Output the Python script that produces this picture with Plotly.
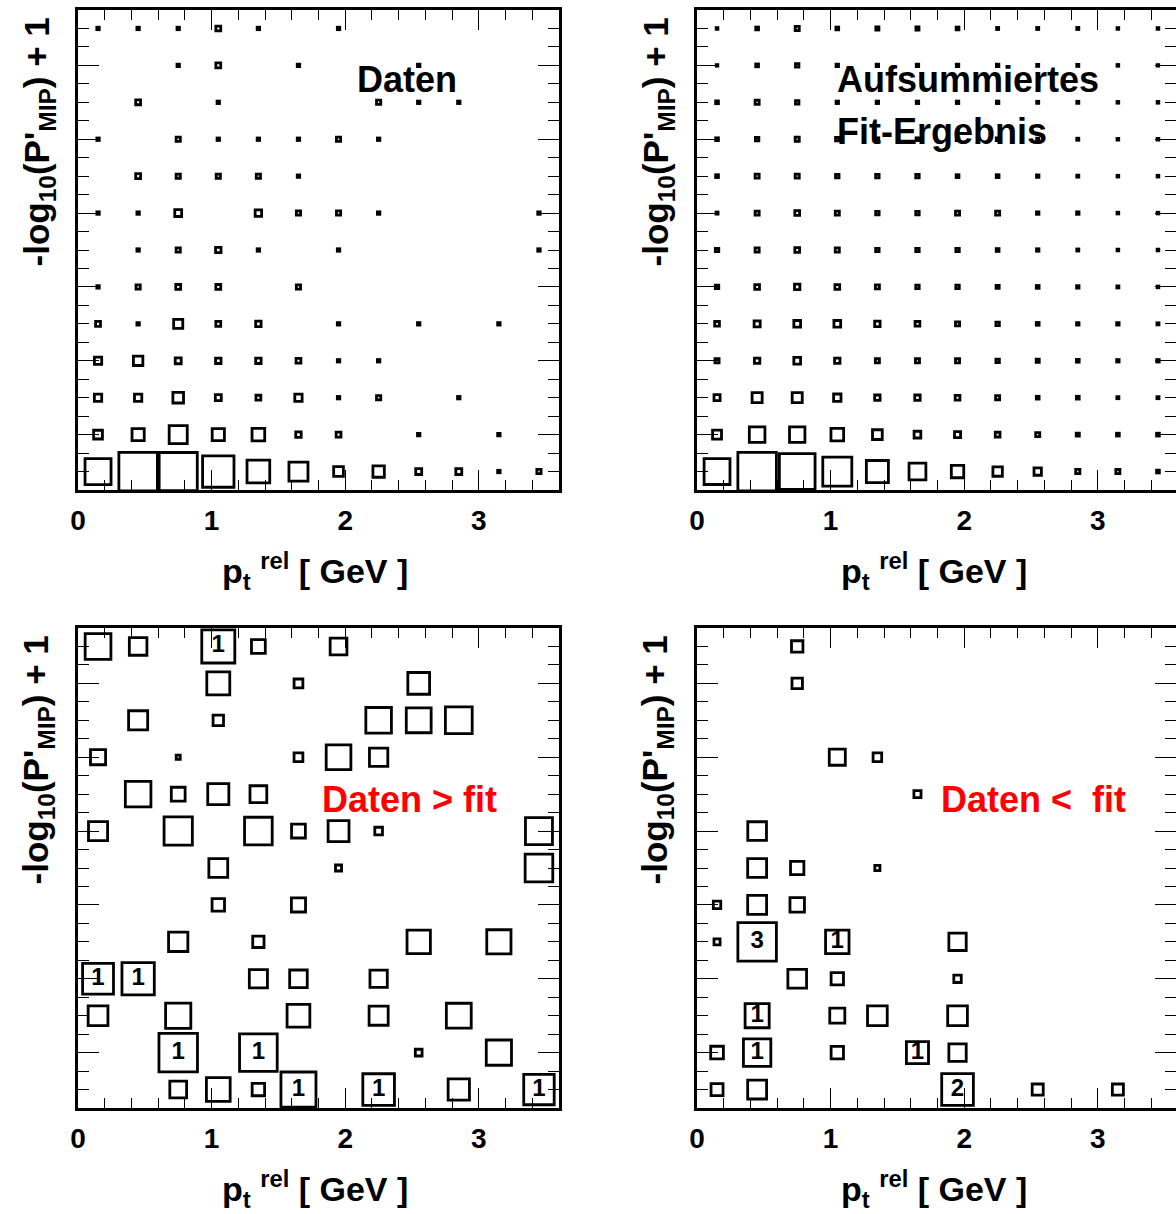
import math
import plotly.graph_objects as go

# ---------------- data ----------------
# bin centres (p_t^rel in GeV) and rows (-log10(P'_MIP)+1), rows listed top -> bottom
x_centers = [0.15, 0.45, 0.75, 1.05, 1.35, 1.65, 1.95, 2.25, 2.55, 2.85, 3.15, 3.45]
y_centers = [13, 12, 11, 10, 9, 8, 7, 6, 5, 4, 3, 2, 1]
x_tick_vals = [0, 1, 2, 3]

# Panel 1: Daten (counts per cell)
daten = [
    [1, 1, 1, 4, 1, 0, 1, 0, 0, 0, 0, 0],
    [0, 0, 1, 4, 0, 1, 0, 0, 1, 0, 0, 0],
    [0, 4, 0, 1, 0, 0, 0, 3, 1, 1, 0, 0],
    [1, 0, 3, 1, 1, 1, 3, 1, 0, 0, 0, 0],
    [0, 4, 3, 3, 3, 1, 0, 0, 0, 0, 0, 0],
    [1, 1, 8, 0, 7, 3, 3, 1, 0, 0, 0, 1],
    [0, 1, 3, 5, 1, 0, 1, 0, 0, 0, 0, 1],
    [1, 3, 4, 4, 0, 3, 0, 0, 0, 0, 0, 0],
    [4, 1, 14, 4, 5, 0, 1, 0, 1, 0, 1, 0],
    [9, 15, 6, 5, 5, 4, 1, 1, 0, 0, 0, 0],
    [9, 9, 19, 6, 4, 9, 1, 3, 0, 1, 0, 0],
    [13, 25, 55, 25, 27, 5, 4, 0, 1, 0, 1, 0],
    [114, 250, 245, 166, 87, 61, 16, 22, 6, 6, 1, 3],
]

# Panel 2: Aufsummiertes Fit-Ergebnis
fit = [
    [0.5, 1.3, 2.8, 1.3, 1.6, 1.6, 1.3, 0.7, 0.7, 0.7, 0.5, 0.5],
    [0.4, 1.3, 2.0, 1.0, 1.0, 1.0, 1.0, 1.0, 0.7, 0.7, 0.5, 0.4],
    [1.3, 2.8, 2.0, 1.0, 1.0, 1.0, 1.0, 1.0, 0.7, 0.7, 0.5, 0.5],
    [1.3, 2.0, 2.8, 2.0, 1.3, 1.3, 1.3, 1.3, 0.7, 0.7, 0.5, 0.5],
    [1.3, 2.8, 2.8, 2.0, 2.0, 2.0, 1.3, 1.3, 1.0, 0.7, 0.5, 0.5],
    [0.7, 2.8, 3.8, 2.8, 2.0, 2.0, 2.8, 2.8, 1.0, 1.0, 0.5, 0.5],
    [2.0, 2.8, 3.8, 2.8, 2.0, 2.0, 2.0, 1.3, 1.0, 0.7, 0.5, 0.5],
    [2.0, 3.8, 4.9, 3.8, 2.8, 2.0, 2.0, 1.6, 1.3, 1.0, 0.7, 0.5],
    [3.8, 6.2, 7.6, 7.6, 4.9, 3.8, 2.8, 2.0, 1.3, 1.0, 1.0, 0.7],
    [2.8, 4.9, 7.6, 4.9, 2.8, 2.8, 2.8, 2.0, 1.6, 1.3, 1.0, 1.0],
    [6.2, 17, 17, 9.2, 4.9, 4.9, 3.8, 2.8, 1.3, 1.3, 0.7, 0.7],
    [13.5, 41, 40, 27, 16, 7.6, 6.2, 3.8, 2.8, 1.6, 1.3, 1.3],
    [113, 250, 215, 142, 82, 48, 26, 15, 9.2, 3.0, 2.8, 1.3],
]

# Panel 3: Daten > fit
daten_gt_fit = [
    [0.73, 0.34, 0, 1.2, 0.21, 0, 0.31, 0, 0, 0, 0, 0],
    [0, 0, 0, 0.58, 0, 0.085, 0, 0, 0.52, 0, 0, 0],
    [0, 0.40, 0, 0.12, 0, 0, 0, 0.72, 0.68, 0.79, 0, 0],
    [0.25, 0, 0.018, 0, 0, 0.085, 0.67, 0.37, 0, 0, 0, 0],
    [0, 0.72, 0.21, 0.49, 0.31, 0, 0, 0, 0, 0, 0, 0],
    [0.40, 0, 0.88, 0, 0.84, 0.21, 0.48, 0.065, 0, 0, 0, 0.80],
    [0, 0, 0, 0.39, 0, 0, 0.04, 0, 0, 0, 0, 0.84],
    [0, 0, 0, 0.17, 0, 0.22, 0, 0, 0, 0, 0, 0],
    [0, 0, 0.41, 0, 0.14, 0, 0, 0, 0.60, 0, 0.645, 0],
    [1.05, 1.15, 0, 0, 0.36, 0.34, 0, 0.33, 0, 0, 0, 0],
    [0.43, 0, 0.70, 0, 0, 0.57, 0, 0.40, 0, 0.68, 0, 0],
    [0, 0, 1.63, 0, 1.56, 0, 0, 0, 0.05, 0, 0.70, 0],
    [0, 0, 0.31, 0.62, 0.17, 1.35, 0, 1.1, 0, 0.50, 0, 1.02],
]

# Panel 4: Daten < fit
daten_lt_fit = [
    [0, 0, 0.30, 0, 0, 0, 0, 0, 0, 0, 0, 0],
    [0, 0, 0.25, 0, 0, 0, 0, 0, 0, 0, 0, 0],
    [0, 0, 0, 0, 0, 0, 0, 0, 0, 0, 0, 0],
    [0, 0, 0, 0.59, 0.17, 0, 0, 0, 0, 0, 0, 0],
    [0, 0, 0, 0, 0, 0.115, 0, 0, 0, 0, 0, 0],
    [0, 0.80, 0, 0, 0, 0, 0, 0, 0, 0, 0, 0],
    [0, 0.82, 0.41, 0, 0.06, 0, 0, 0, 0, 0, 0, 0],
    [0.126, 0.82, 0.48, 0, 0, 0, 0, 0, 0, 0, 0, 0],
    [0.085, 3.4, 0, 1.26, 0, 0, 0.69, 0, 0, 0, 0, 0],
    [0, 0, 0.80, 0.35, 0, 0, 0.126, 0, 0, 0, 0, 0],
    [0, 1.33, 0, 0.52, 0.89, 0, 0.89, 0, 0, 0, 0, 0],
    [0.37, 1.72, 0, 0.35, 0, 1.12, 0.69, 0, 0, 0, 0, 0],
    [0.33, 0.82, 0, 0, 0, 0, 2.3, 0, 0.28, 0, 0.28, 0],
]

# ---------------- layout geometry ----------------
W, H = 1176, 1214
FONT = "Liberation Sans, Arial, Helvetica, sans-serif"
BOX_FULL = 38.5      # marker side (px) of the largest cell
BOX_LW = 2.8

panels = [
    dict(grid=daten, left=78, right=559, top=10, bottom=490, xmax=3.6, labels=False),
    dict(grid=fit, left=697, right=1176, top=10, bottom=490, xmax=3.585, labels=False),
    dict(grid=daten_gt_fit, left=78, right=559, top=628, bottom=1108, xmax=3.6, labels=True),
    dict(grid=daten_lt_fit, left=697, right=1176, top=628, bottom=1108, xmax=3.585, labels=True),
]

fig = go.Figure()
layout = dict(width=W, height=H, margin=dict(l=0, r=0, t=0, b=0, pad=0, autoexpand=False),
              autosize=False, paper_bgcolor="white", plot_bgcolor="white", showlegend=False)
annotations = []

for i, p in enumerate(panels):
    n = "" if i == 0 else str(i + 1)
    xa, ya = "x" + n, "y" + n
    xs, ys, vs = [], [], []
    for r, row in enumerate(p["grid"]):
        for c, v in enumerate(row):
            if v > 0:
                xs.append(x_centers[c]); ys.append(y_centers[r]); vs.append(v)
    vmax = max(vs)
    sizes = [BOX_FULL * math.sqrt(v / vmax) for v in vs]
    fig.add_trace(go.Scatter(
        x=xs, y=ys, mode="markers", xaxis=xa, yaxis=ya, hoverinfo="skip",
        marker=dict(symbol="square-open", size=sizes, color="black", opacity=1,
                    line=dict(width=BOX_LW, color="black"))))
    if p["labels"]:
        tx = [x for x, v in zip(xs, vs) if v >= 1]
        ty = [y for y, v in zip(ys, vs) if v >= 1]
        tt = [str(int(v)) for v in vs if v >= 1]
        fig.add_trace(go.Scatter(
            x=tx, y=ty, text=tt, mode="text", xaxis=xa, yaxis=ya, hoverinfo="skip",
            textposition="middle center",
            textfont=dict(family=FONT, size=24, color="black", weight="bold")))

    xdom = [p["left"] / W, p["right"] / W]
    ydom = [1 - p["bottom"] / H, 1 - p["top"] / H]
    layout["xaxis" + n] = dict(
        domain=xdom, range=[0, p["xmax"]], anchor=ya, automargin=False,
        showgrid=False, zeroline=False, showline=True, linewidth=3, linecolor="black",
        mirror="allticks", ticks="inside", ticklen=20, tickwidth=1.2, tickcolor="black",
        tickmode="array", tickvals=x_tick_vals, ticktext=[str(t) for t in x_tick_vals],
        minor=dict(ticks="inside", ticklen=10, tickwidth=1.2, tickcolor="black",
                   tick0=0, dtick=0.2, showgrid=False),
        tickfont=dict(family=FONT, size=28, color="black", weight="bold"),
        ticklabelstandoff=3, fixedrange=True)
    layout["yaxis" + n] = dict(
        domain=ydom, range=[0.5, 13.5], anchor=xa, automargin=False,
        showgrid=False, zeroline=False, showline=True, linewidth=3, linecolor="black",
        mirror="allticks", ticks="inside", ticklen=21, tickwidth=1.2, tickcolor="black",
        tick0=0, dtick=2, showticklabels=False,
        minor=dict(ticks="inside", ticklen=11, tickwidth=1.2, tickcolor="black",
                   tick0=0, dtick=0.5, showgrid=False),
        fixedrange=True)

    # axis titles
    annotations.append(dict(
        xref="paper", yref="paper", x=(p["left"] + 237) / W, y=1 - (p["top"] + 561) / H,
        text="p<sub>t</sub> <sup>rel</sup> [ GeV ]", showarrow=False,
        xanchor="center", yanchor="middle",
        font=dict(family=FONT, size=34, color="black", weight="bold")))
    annotations.append(dict(
        xref="paper", yref="paper", x=(p["left"] - 40) / W, y=1 - (p["top"] + 6) / H,
        text="-log<sub>10</sub>(P'<sub>MIP</sub>) + 1", showarrow=False, textangle=-90,
        xanchor="center", yanchor="top",
        font=dict(family=FONT, size=35, color="black", weight="bold")))

# in-plot texts
texts = [
    ("Daten", 355, 79, "black"),
    ("Aufsummiertes", 835, 79, "black"),
    ("Fit-Ergebnis", 835, 131, "black"),
    ("Daten &gt; fit", 320, 800, "#ff0000"),
    ("Daten &lt;\u00a0 fit", 939, 800, "#ff0000"),
]
for t, xp, yp, col in texts:
    annotations.append(dict(
        xref="paper", yref="paper", x=xp / W, y=1 - yp / H, text=t, showarrow=False,
        xanchor="left", yanchor="middle",
        font=dict(family=FONT, size=36, color=col, weight="bold")))

layout["annotations"] = annotations
fig.update_layout(**layout)
fig.write_html(
    "out.html", config={"displayModeBar": False},
    post_script="document.body.style.margin='0';document.body.style.overflow='hidden';")
